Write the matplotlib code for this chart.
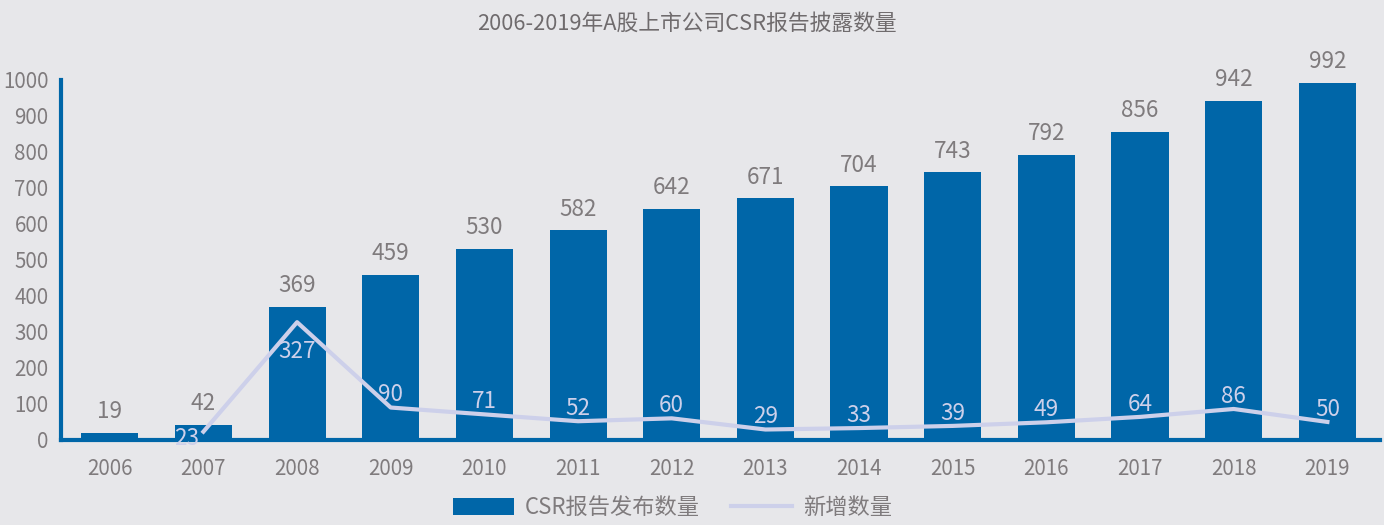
import numpy as np
import matplotlib.pyplot as plt

plt.rcParams['font.family'] = ['Noto Sans CJK SC', 'DejaVu Sans']

# data
years = ['2006', '2007', '2008', '2009', '2010', '2011', '2012',
         '2013', '2014', '2015', '2016', '2017', '2018', '2019']
reports = [19, 42, 369, 459, 530, 582, 642, 671, 704, 743, 792, 856, 942, 992]
new_added = [None, 23, 327, 90, 71, 52, 60, 29, 33, 39, 49, 64, 86, 50]

bar_c = '#0066A8'
line_c = '#CDD0EA'
bg = '#E7E7EA'
txt = '#7F7B7D'

fig = plt.figure(figsize=(13.84, 5.25), dpi=100, facecolor=bg)
ax = fig.add_axes([0.0441, 0.162, 0.9529, 0.686], facecolor=bg)

x = np.arange(len(years))
bars = ax.bar(x, reports, width=0.61, color=bar_c, label='CSR报告发布数量', zorder=2)

lx = [i for i, v in enumerate(new_added) if v is not None]
ly = [v for v in new_added if v is not None]
line, = ax.plot(lx, ly, color=line_c, lw=3, label='新增数量', zorder=3)

# labels
for i, v in enumerate(reports):
    ax.annotate(str(v), (i, v), xytext=(0, 7), textcoords='offset points',
                ha='center', va='bottom', fontsize=16.2, color=txt)
for i, v in zip(lx, ly):
    if v == 327:
        off, va = (0, -13), 'top'
    elif v == 23:
        off, va = (-12, -5), 'center'
    else:
        off, va = (0, 1), 'bottom'
    ax.annotate(str(v), (i, v), xytext=off, textcoords='offset points',
                ha='center', va=va, fontsize=16.2, color=line_c, zorder=4)

ax.set_xlim(-0.52, 13.56)
ax.set_ylim(0, 1000)
ax.set_yticks(range(0, 1001, 100))
ax.set_xticks(x)
ax.set_xticklabels(years)
ax.tick_params(length=0, labelsize=14.8, colors=txt)
ax.tick_params(axis='x', pad=13)
ax.tick_params(axis='y', pad=9)
for s in ['top', 'right']:
    ax.spines[s].set_visible(False)
for s in ['left', 'bottom']:
    ax.spines[s].set_color(bar_c)
    ax.spines[s].set_linewidth(3)

fig.text(0.4964, 0.955, '2006-2019年A股上市公司CSR报告披露数量', ha='center', va='center',
         fontsize=15.7, color='#6F6B6D')

leg = fig.legend([bars, line], ['CSR报告发布数量', '新增数量'],
                 loc='center', bbox_to_anchor=(0.486, 0.033), ncol=2, frameon=False,
                 labelcolor=txt, handlelength=2.75, handleheight=0.8,
                 columnspacing=1.4, handletextpad=0.5, prop={'size': 16})

fig.savefig('out.png', dpi=100, facecolor=bg)
